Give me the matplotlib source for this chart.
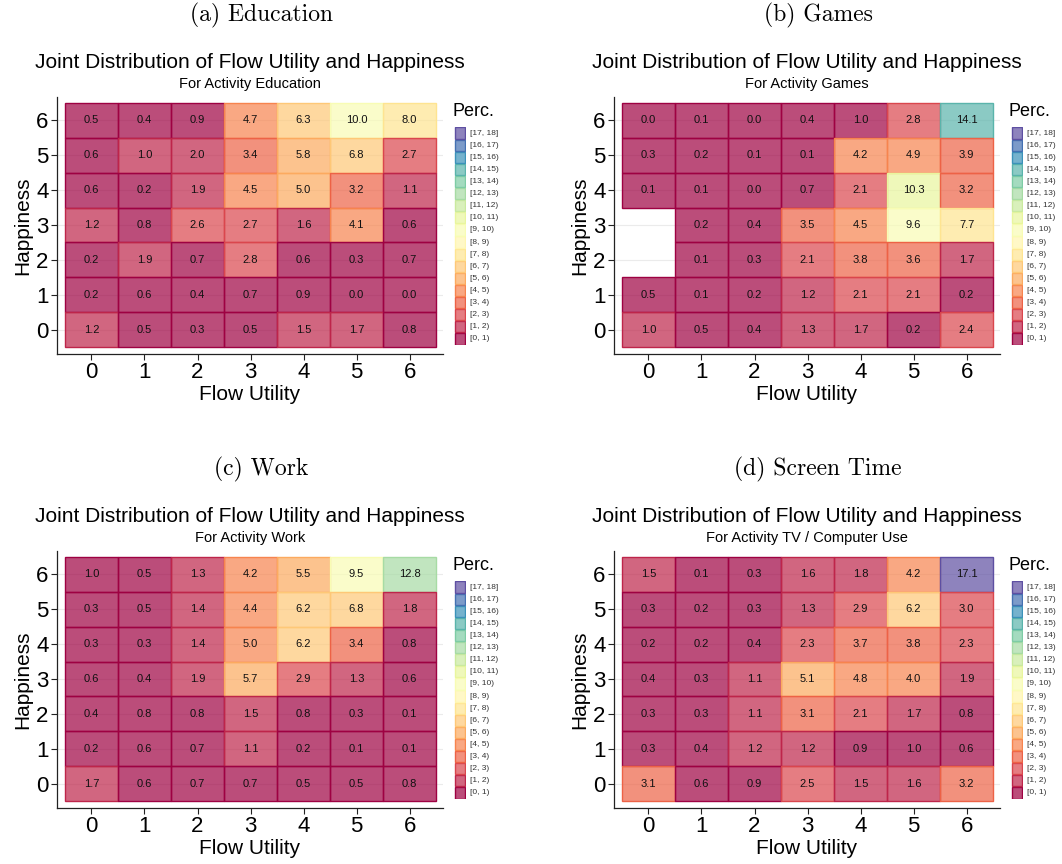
import numpy as np
import matplotlib
matplotlib.use("Agg")
import matplotlib.pyplot as plt
from matplotlib.patches import Rectangle

plt.rcParams["font.family"] = ["Liberation Sans", "DejaVu Sans"]

# values, rows from happiness 6 (top) down to 0
flow_levels = [0, 1, 2, 3, 4, 5, 6]
happiness_levels = [6, 5, 4, 3, 2, 1, 0]

education = [
    [0.5, 0.4, 0.9, 4.7, 6.3, 9.98, 7.98],
    [0.6, 1.0, 1.98, 3.4, 5.8, 6.8, 2.7],
    [0.6, 0.2, 1.9, 4.5, 5.0, 3.2, 1.1],
    [1.2, 0.8, 2.6, 2.7, 1.6, 4.1, 0.6],
    [0.2, 1.9, 0.7, 2.8, 0.6, 0.3, 0.7],
    [0.2, 0.6, 0.4, 0.7, 0.9, 0.0, 0.0],
    [1.2, 0.5, 0.3, 0.5, 1.5, 1.7, 0.8],
]
games = [
    [0.0, 0.1, 0.0, 0.4, 0.98, 2.8, 14.1],
    [0.3, 0.2, 0.1, 0.1, 4.2, 4.9, 3.9],
    [0.1, 0.1, 0.0, 0.7, 2.1, 10.3, 3.2],
    [np.nan, 0.2, 0.4, 3.5, 4.5, 9.6, 7.7],
    [np.nan, 0.1, 0.3, 2.1, 3.8, 3.6, 1.7],
    [0.5, 0.1, 0.2, 1.2, 2.1, 2.1, 0.2],
    [1.0, 0.5, 0.4, 1.3, 1.7, 0.2, 2.4],
]
work = [
    [0.98, 0.5, 1.3, 4.2, 5.5, 9.5, 12.8],
    [0.3, 0.5, 1.4, 4.4, 6.2, 6.8, 1.8],
    [0.3, 0.3, 1.4, 4.98, 6.2, 3.4, 0.8],
    [0.6, 0.4, 1.9, 5.7, 2.9, 1.3, 0.6],
    [0.4, 0.8, 0.8, 1.5, 0.8, 0.3, 0.1],
    [0.2, 0.6, 0.7, 1.1, 0.2, 0.1, 0.1],
    [1.7, 0.6, 0.7, 0.7, 0.5, 0.5, 0.8],
]
screen = [
    [1.5, 0.1, 0.3, 1.6, 1.8, 4.2, 17.1],
    [0.3, 0.2, 0.3, 1.3, 2.9, 6.2, 2.98],
    [0.2, 0.2, 0.4, 2.3, 3.7, 3.8, 2.3],
    [0.4, 0.3, 1.1, 5.1, 4.8, 4.0, 1.9],
    [0.3, 0.3, 1.1, 3.1, 2.1, 1.7, 0.8],
    [0.3, 0.4, 1.2, 1.2, 0.9, 0.98, 0.6],
    [3.1, 0.6, 0.9, 2.5, 1.5, 1.6, 3.2],
]

captions = ["(a) Education", "(b) Games", "(c) Work", "(d) Screen Time"]
activities = ["Education", "Games", "Work", "TV / Computer Use"]
panels = [education, games, work, screen]

bin_edges = list(range(0, 19))
bin_labels = [f"[{a}, {b})" for a, b in zip(bin_edges[:-2], bin_edges[1:-1])] + ["[17, 18]"]

W, H = 1062, 864
cmap = plt.get_cmap("Spectral")
n_bins = len(bin_labels)
bin_colors = [cmap(i / (n_bins - 1)) for i in range(n_bins)]


def fig_rect(left, top, right, bottom):
    return [left / W, 1 - bottom / H, (right - left) / W, (bottom - top) / H]


def soft(c, a=0.7):
    return (c[0], c[1], c[2], a)


fig = plt.figure(figsize=(W / 100, H / 100), dpi=100)

offsets = [(0, 0), (557, 0), (0, 454), (557, 454)]

for k, (dx, dy) in enumerate(offsets):
    vals = np.array(panels[k], dtype=float)

    ax = fig.add_axes(fig_rect(57 + dx, 97 + dy, 443 + dx, 354 + dy))
    ax.set_xlim(-0.65, 6.63)
    ax.set_ylim(-0.7, 6.67)
    for s in ["top", "right"]:
        ax.spines[s].set_visible(False)
    for s in ["left", "bottom"]:
        ax.spines[s].set_linewidth(0.9)
        ax.spines[s].set_color("#222222")
    ax.set_xticks(flow_levels)
    ax.set_yticks(sorted(happiness_levels))
    ax.tick_params(labelsize=16, length=4, width=0.8, pad=2, colors="#222222",
                   labelcolor="black")
    ax.yaxis.grid(True, color="#EBEBEB", linewidth=0.8, zorder=0)
    ax.set_axisbelow(True)
    ax.set_xlabel("Flow Utility", fontsize=15, labelpad=1)
    ax.set_ylabel("Happiness", fontsize=15, labelpad=3)

    for r, hap in enumerate(happiness_levels):
        for c, flow in enumerate(flow_levels):
            v = vals[r, c]
            if np.isnan(v):
                continue
            col = bin_colors[min(int(np.floor(v)), n_bins - 1)]
            ax.add_patch(Rectangle((flow - 0.5, hap - 0.5), 1, 1, facecolor=soft(col),
                                   edgecolor=col, linewidth=1.0, zorder=2))
            ax.text(flow, hap, f"{v:.1f}", ha="center", va="center", fontsize=8,
                    color="#111111", zorder=3)

    # titles
    fig.text((250 + dx) / W, 1 - (62 + dy) / H,
             "Joint Distribution of Flow Utility and Happiness",
             ha="center", va="center", fontsize=15)
    fig.text((250 + dx) / W, 1 - (84 + dy) / H, f"For Activity {activities[k]}",
             ha="center", va="center", fontsize=10.5)
    fig.text((261 + dx) / W, 1 - (15 + dy) / H, captions[k], ha="center",
             va="center", fontsize=17, family="cmr10")

    # legend
    fig.text((452 + dx) / W, 1 - (112 + dy) / H, "Perc.", ha="left", va="center",
             fontsize=13)
    lax = fig.add_axes(fig_rect(454 + dx, 127 + dy, 466 + dx, 345 + dy))
    lax.set_xlim(0, 1)
    lax.set_ylim(0, n_bins)
    lax.axis("off")
    for i, (lab, col) in enumerate(zip(bin_labels, bin_colors)):
        lax.add_patch(Rectangle((0.05, i + 0.04), 0.9, 0.92, facecolor=soft(col),
                                edgecolor=col, linewidth=1.0))
        lax.text(1.35, i + 0.5, lab, ha="left", va="center", fontsize=6,
                 color="#333333", clip_on=False)

fig.savefig("out.png", dpi=100)
